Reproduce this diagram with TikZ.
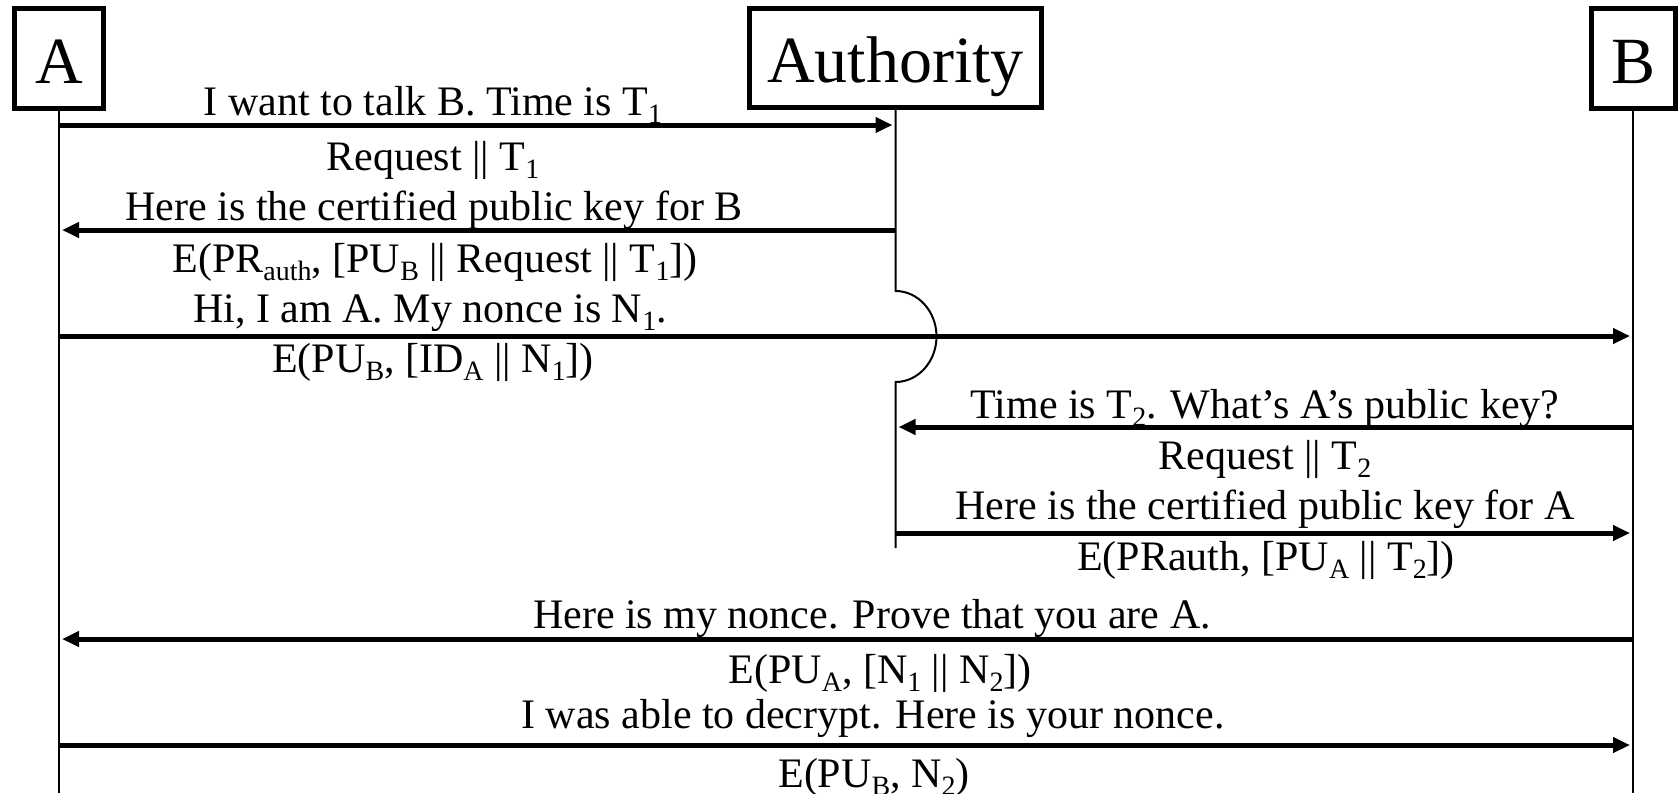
\documentclass[tikz,border=0pt]{standalone}
\usepackage{fontspec}
\setmainfont{Liberation Serif}
\usetikzlibrary{arrows.meta}
\newcommand\lowsub[1]{\raisebox{-8pt}{\fontsize{28}{28}\selectfont #1}}
\newcommand\dbar{\textbar\textbar}
\begin{document}
\begin{tikzpicture}[x=1pt,y=-1pt,
  actor/.style={draw, line width=5pt, inner sep=0pt, font=\fontsize{66}{72}\selectfont, text height=49pt, text depth=0pt},
  msg/.style={anchor=base, inner sep=0pt, font=\fontsize{42}{50}\selectfont},
  life/.style={line width=2pt},
  call/.style={line width=5pt, -{Triangle[length=17pt,width=15pt]}, shorten >=3pt}]
\useasboundingbox (0,0) rectangle (1678,793);

% actors
\node[actor, minimum width=89pt, minimum height=100pt] (A) at (59,58.5) {A};
\node[actor, minimum width=292pt, minimum height=99pt] (Auth) at (895.5,58) {Authority};
\node[actor, minimum width=84pt, minimum height=100pt] (B) at (1633,58.5) {B};

% helper coordinates
\coordinate (bottom) at (0,793);
\coordinate (hopTop) at (895.5,291);
\coordinate (hopBot) at (895.5,382);
\coordinate (authEnd) at (895.5,548);
\coordinate (r1) at (0,125);
\coordinate (r2) at (0,230);
\coordinate (r3) at (0,336);
\coordinate (r4) at (0,427);
\coordinate (r5) at (0,533);
\coordinate (r6) at (0,639);
\coordinate (r7) at (0,745);

% lifelines
\draw[life] (A.south) -- (A.south |- bottom);
\draw[life] (B.south) -- (B.south |- bottom);
\draw[life] (Auth.south) -- (hopTop) .. controls (918.1,291) and (936.5,311.4) .. (936.5,336.5) .. controls (936.5,361.6) and (918.1,382) .. (hopBot) -- (authEnd);

% messages
\draw[call] (A.south |- r1) -- (Auth.south |- r1);
\draw[call] (Auth.south |- r2) -- (A.south |- r2);
\draw[call] (A.south |- r3) -- (B.south |- r3);
\draw[call] (B.south |- r4) -- (Auth.south |- r4);
\draw[call] (Auth.south |- r5) -- (B.south |- r5);
\draw[call] (B.south |- r6) -- (A.south |- r6);
\draw[call] (A.south |- r7) -- (B.south |- r7);

% labels
\node[msg] (m1) at (433,115) {I want to talk B. Time is T\lowsub{1}};
\node[msg] (m2) at (433,170) {Request \dbar{} T\lowsub{1}};
\node[msg] (m3) at (434,220) {Here is the certified public key for B};
\node[msg] (m4) at (435,272) {E(PR\lowsub{auth}, [PU\lowsub{B} \dbar{} Request \dbar{} T\lowsub{1}])};
\node[msg] (m5) at (430,322) {Hi, I am A. My nonce is N\lowsub{1}.};
\node[msg] (m6) at (433,372) {E(PU\lowsub{B}, [ID\lowsub{A} \dbar{} N\lowsub{1}])};
\node[msg] (m7) at (1265,418) {Time is T\lowsub{2}. What’s A’s public key?};
\node[msg] (m8) at (1265,469) {Request \dbar{} T\lowsub{2}};
\node[msg] (m9) at (1265,519) {Here is the certified public key for A};
\node[msg] (m10) at (1266,570) {E(PRauth, [PU\lowsub{A} \dbar{} T\lowsub{2}])};
\node[msg] (m11) at (872,628) {Here is my nonce. Prove that you are A.};
\node[msg] (m12) at (880,683) {E(PU\lowsub{A}, [N\lowsub{1} \dbar{} N\lowsub{2}])};
\node[msg] (m13) at (873,728) {I was able to decrypt. Here is your nonce.};
\node[msg] (m14) at (874,787) {E(PU\lowsub{B}, N\lowsub{2})};
\end{tikzpicture}
\end{document}
